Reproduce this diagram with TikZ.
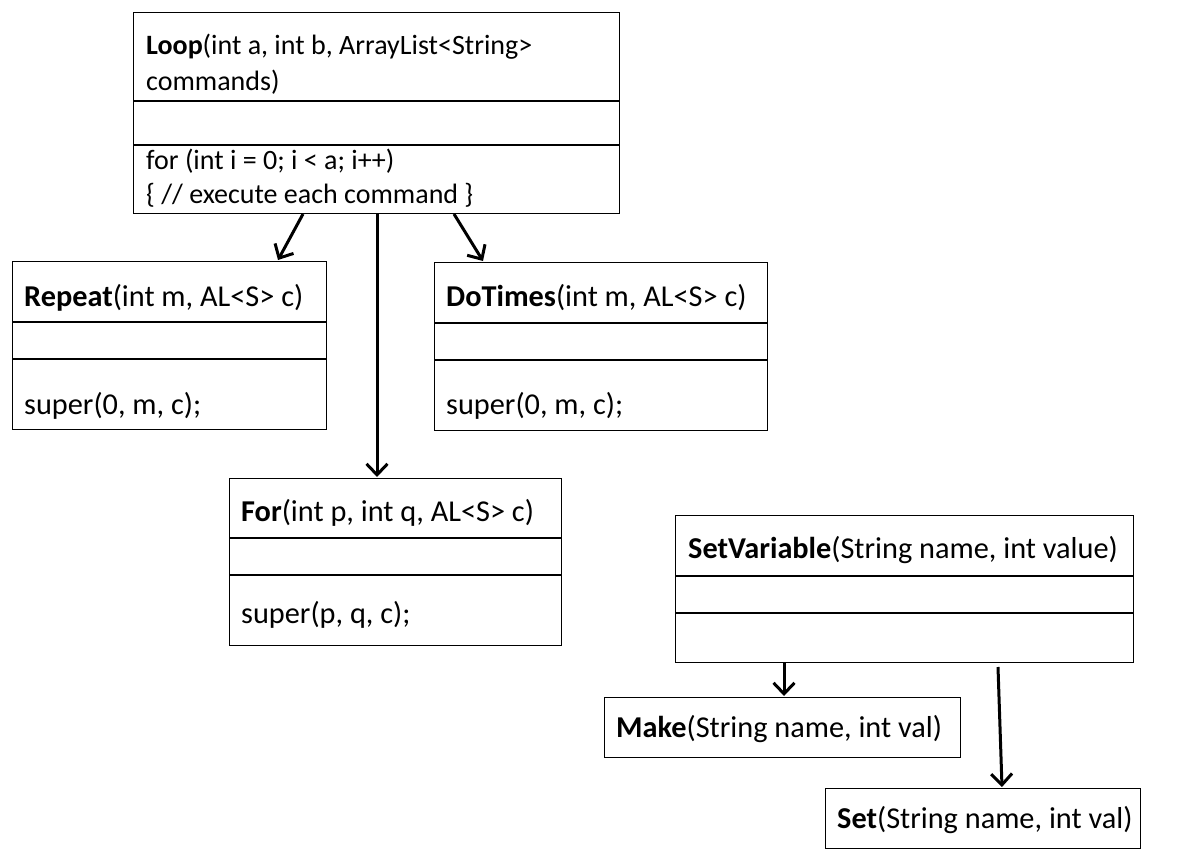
\documentclass[tikz,border=0pt]{standalone}
\usepackage{fontspec}
\setmainfont{Carlito}
\usetikzlibrary{arrows.meta}
\begin{document}
\begin{tikzpicture}[x=1pt,y=-1pt,
  box/.style={draw=black,line width=1.4pt,inner sep=0pt},
  divider/.style={draw=black,line width=1.4pt},
  txt/.style={anchor=west,inner sep=0pt,font=\fontsize{30.3}{35}\selectfont},
  looptxt/.style={anchor=west,inner sep=0pt,font=\fontsize{28}{35}\selectfont},
  arr/.style={draw=black,line width=3pt,-{Straight Barb[length=11pt,width=21pt,line width=3pt]}}]
\useasboundingbox (0,0) rectangle (1184,859);
% Loop
\node[box,anchor=north west,minimum width=486pt,minimum height=201pt] (loop) at (133,12) {};
\draw[divider] (133,101) -- (619,101);
\draw[divider] (133,145) -- (619,145);
\node[looptxt] (loopt1) at (146,47) {\textbf{Loop}(int a, int b, ArrayList<String>};
\node[looptxt] (loopt2) at (146,82) {commands)};
\node[looptxt] (loopm1) at (146,161) {for (int i = 0; i < a; i++)};
\node[looptxt] (loopm2) at (146,195) {\{ // execute each command \}};
% Repeat
\node[box,anchor=north west,minimum width=314pt,minimum height=168pt] (repeat) at (12,261) {};
\draw[divider] (12,322) -- (326,322);
\draw[divider] (12,359) -- (326,359);
\node[txt] (repeatt) at (24,298) {\textbf{Repeat}(int m, AL<S> c)};
\node[txt] (repeatm) at (24,406) {super(0, m, c);};
% DoTimes
\node[box,anchor=north west,minimum width=333pt,minimum height=168pt] (dotimes) at (434,262) {};
\draw[divider] (434,323) -- (767,323);
\draw[divider] (434,360) -- (767,360);
\node[txt] (dotimest) at (446,298) {\textbf{DoTimes}(int m, AL<S> c)};
\node[txt] (dotimesm) at (446,406) {super(0, m, c);};
% For
\node[box,anchor=north west,minimum width=332pt,minimum height=167pt] (for) at (229,478) {};
\draw[divider] (229,538) -- (561,538);
\draw[divider] (229,575) -- (561,575);
\node[txt] (fort) at (241,513) {\textbf{For}(int p, int q, AL<S> c)};
\node[txt] (form) at (241,615) {super(p, q, c);};
% SetVariable
\node[box,anchor=north west,minimum width=458pt,minimum height=147pt] (setvar) at (675,515) {};
\draw[divider] (675,576) -- (1133,576);
\draw[divider] (675,613) -- (1133,613);
\node[txt] (setvart) at (688,550) {\textbf{SetVariable}(String name, int value)};
% Make
\node[box,anchor=north west,minimum width=356pt,minimum height=60pt] (make) at (604,697) {};
\node[txt] (maket) at (616,729) {\textbf{Make}(String name, int val)};
% Set
\node[box,anchor=north west,minimum width=315pt,minimum height=60pt] (set) at (825,788) {};
\node[txt] (sett) at (837,820) {\textbf{Set}(String name, int val)};
% connectors
\coordinate (l1) at (303,214);
\coordinate (r1) at (278,260);
\coordinate (l2) at (377,214);
\coordinate (f1) at (377,477);
\coordinate (l3) at (454,214);
\coordinate (d1) at (483,261);
\coordinate (s1) at (784,663);
\coordinate (m1) at (784,696);
\coordinate (s2) at (998,667);
\coordinate (t1) at (1002,787);
\draw[arr] (l1) -- (r1);
\draw[arr] (l2) -- (f1);
\draw[arr] (l3) -- (d1);
\draw[arr] (s1) -- (m1);
\draw[arr] (s2) -- (t1);
\end{tikzpicture}
\end{document}
